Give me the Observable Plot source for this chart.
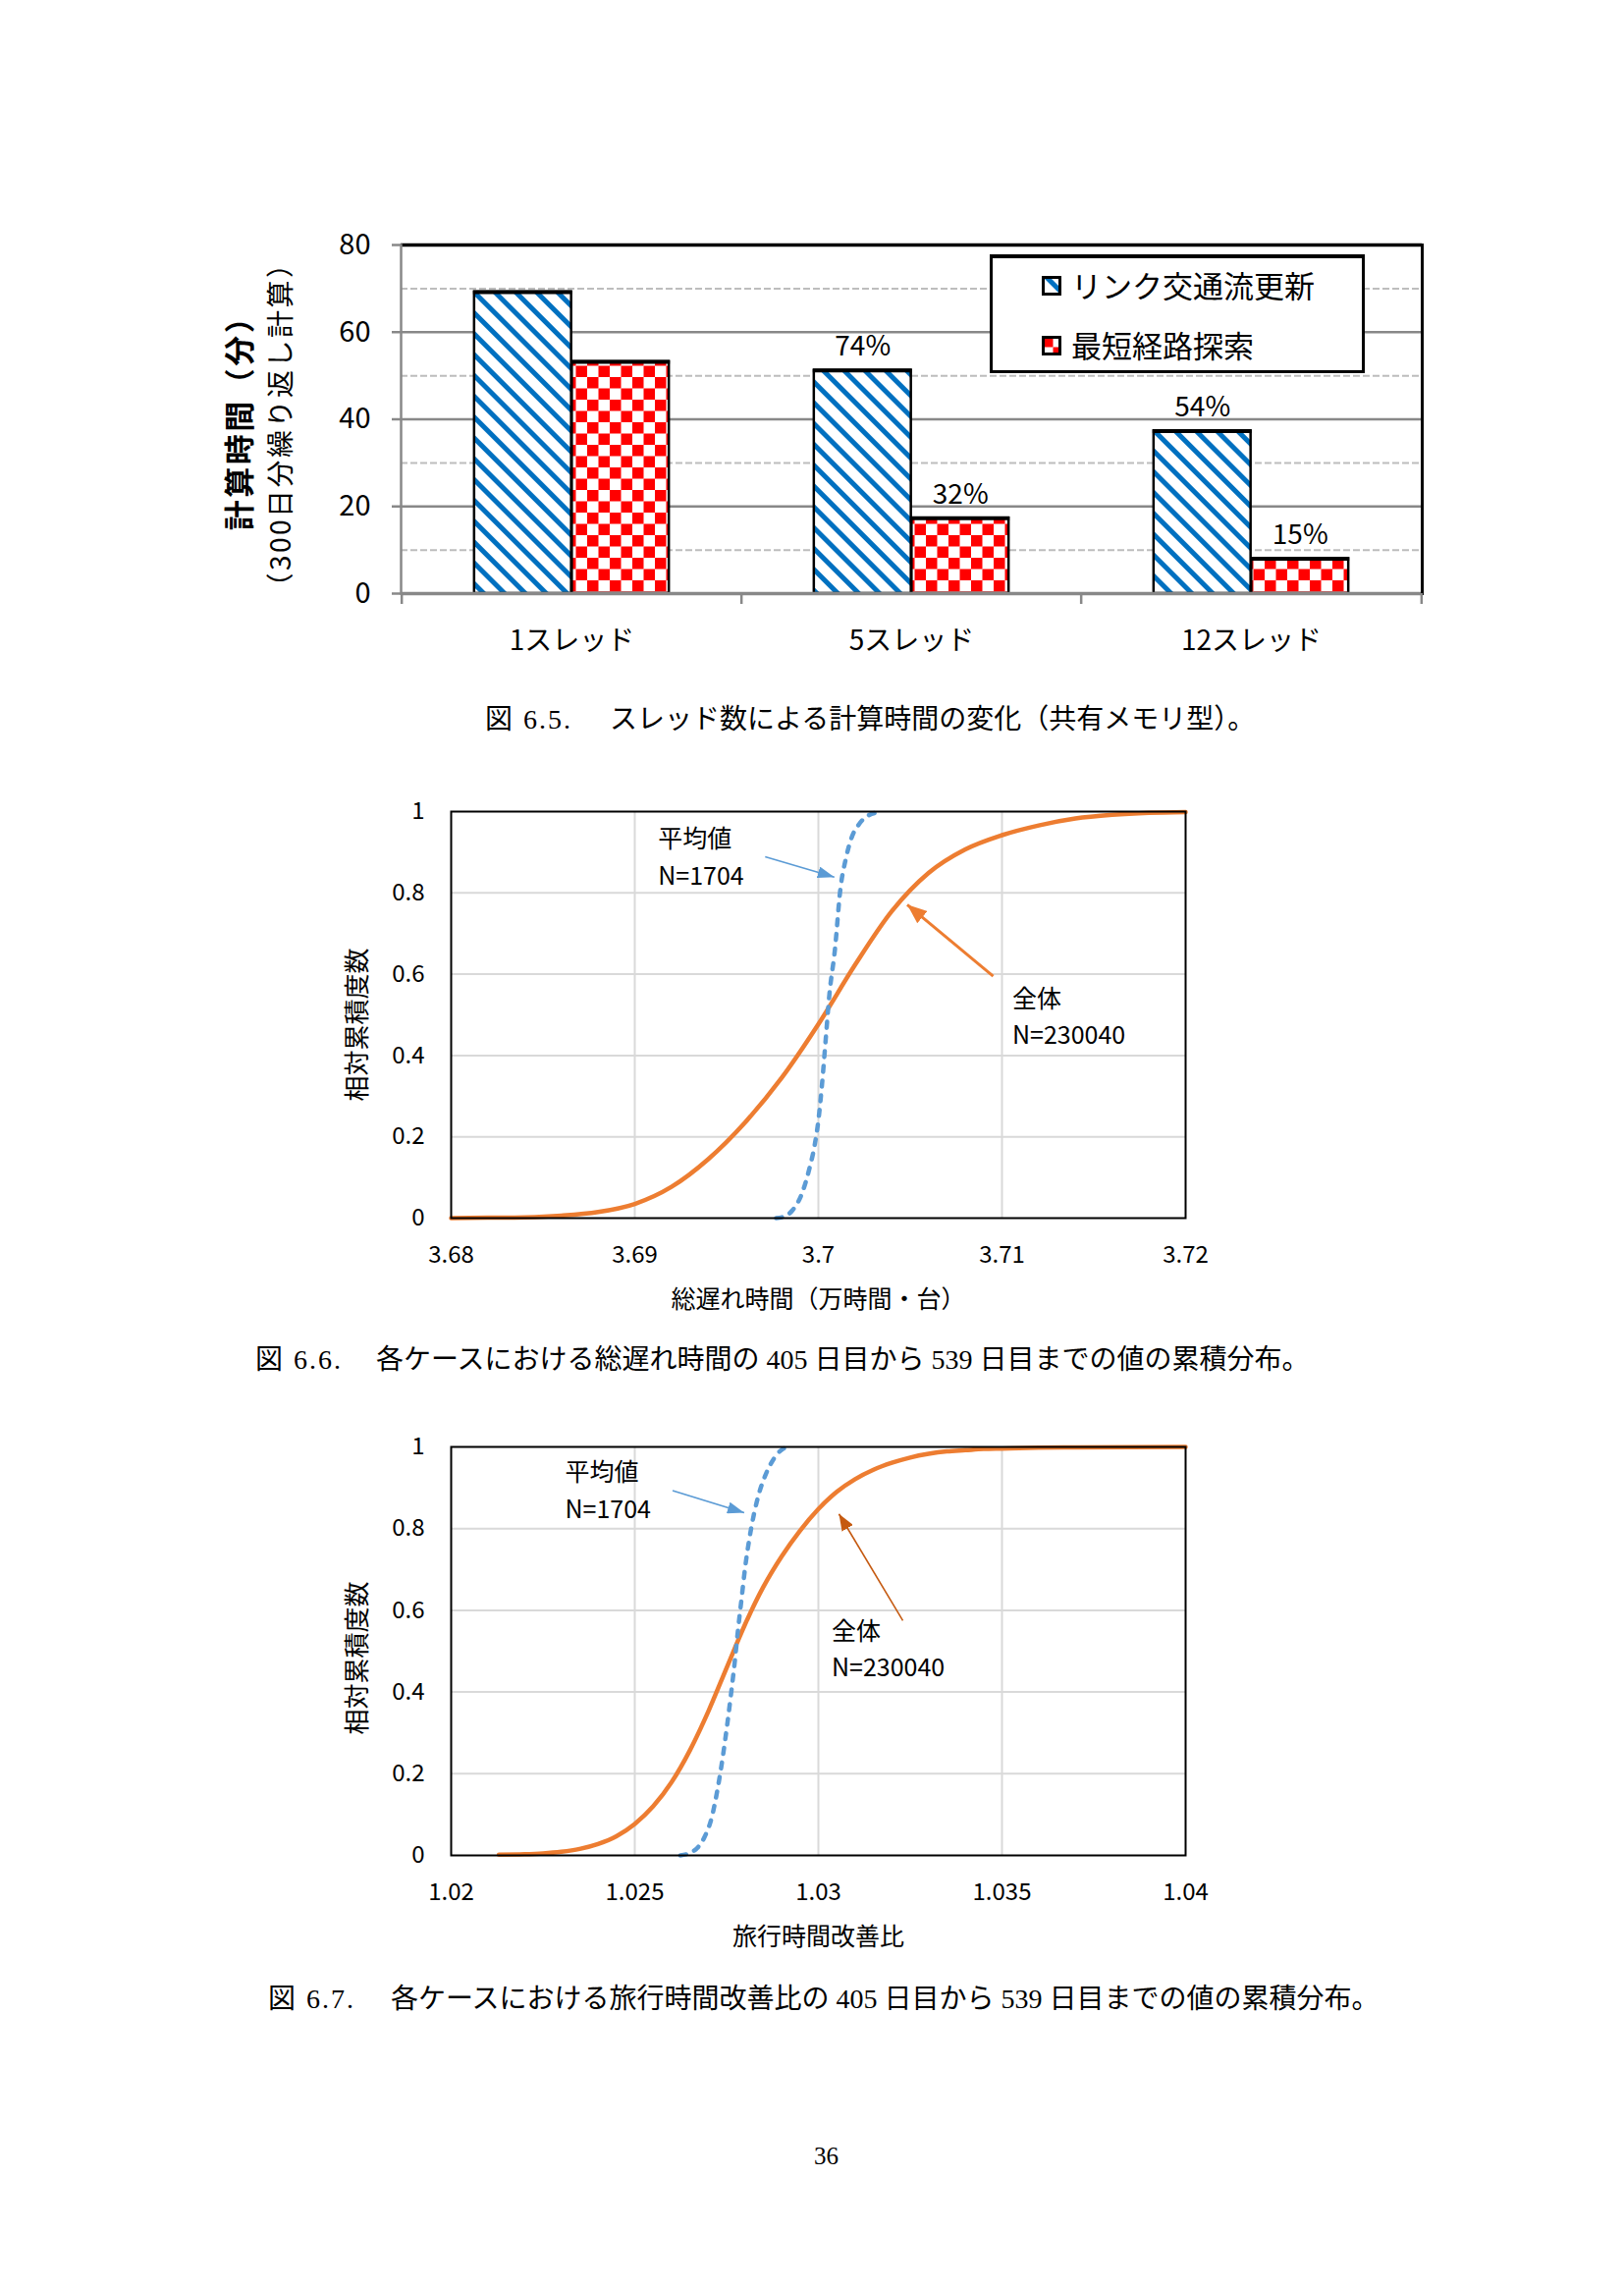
<!DOCTYPE html>
<html>
<head>
<meta charset="utf-8">
<script src="https://cdn.jsdelivr.net/npm/d3@7"></script>
<script src="https://cdn.jsdelivr.net/npm/@observablehq/plot@0.6"></script>
<style>
  html, body { margin: 0; padding: 0; background: #fff; }
  body { width: 1654px; height: 2328px; position: relative; overflow: hidden; }
  .abs { position: absolute; }
  .cap { position: absolute; font-family: "Liberation Serif", "Noto Sans CJK JP", serif; font-size: 28px; line-height: 28px; color: #000; white-space: nowrap; }
  .leg { position: absolute; font-family: "Noto Sans CJK JP", sans-serif; font-size: 31px; line-height: 32px; color: #000; white-space: nowrap; }
</style>
</head>
<body>
<svg width="0" height="0" style="position:absolute">
  <defs>
    <pattern id="diag" patternUnits="userSpaceOnUse" width="15" height="15" patternTransform="rotate(-45)">
      <rect width="15" height="15" fill="#fff"/>
      <rect x="0" y="0" width="5" height="15" fill="#0070C0"/>
    </pattern>
    <pattern id="check" patternUnits="userSpaceOnUse" width="23" height="23">
      <rect width="23" height="23" fill="#fff"/>
      <rect x="0" y="0" width="11.5" height="11.5" fill="#FF0000"/>
      <rect x="11.5" y="11.5" width="11.5" height="11.5" fill="#FF0000"/>
    </pattern>
    <marker id="mBlue" viewBox="0 0 10 10" refX="10" refY="5" markerUnits="userSpaceOnUse" markerWidth="17" markerHeight="12" orient="auto" preserveAspectRatio="none">
      <path d="M0,0L10,5L0,10z" fill="#5B9BD5"/>
    </marker>
    <marker id="mOrange" viewBox="0 0 10 10" refX="10" refY="5" markerUnits="userSpaceOnUse" markerWidth="20" markerHeight="16" orient="auto" preserveAspectRatio="none">
      <path d="M0,0L10,5L0,10z" fill="#ED7D31"/>
    </marker>
    <marker id="mDark" viewBox="0 0 10 10" refX="10" refY="5" markerUnits="userSpaceOnUse" markerWidth="17" markerHeight="13" orient="auto" preserveAspectRatio="none">
      <path d="M0,0L10,5L0,10z" fill="#C55A11"/>
    </marker>
  </defs>
</svg>

<div id="c1" class="abs" style="left:0;top:200px"></div>
<div id="legend" class="abs" style="left:1008px;top:259px;width:382px;height:121px;box-sizing:border-box;border:3px solid #000;border-top-width:4px;background:#fff;">
  <svg style="position:absolute;left:50px;top:18px" width="20" height="20"><rect x="1.5" y="1.5" width="17" height="17" fill="url(#diag)" stroke="#000" stroke-width="3"/></svg>
  <span class="leg" id="leg1" style="left:80px;top:11px"></span>
  <svg style="position:absolute;left:50px;top:79px" width="20" height="20"><rect x="1.5" y="1.5" width="17" height="17" fill="url(#check)" stroke="#000" stroke-width="3"/></svg>
  <span class="leg" id="leg2" style="left:80px;top:72px"></span>
</div>
<span class="cap" style="left:494px;top:719px;letter-spacing:2px">図 6.5.</span>
<span class="cap" style="left:621px;top:719px">スレッド数による計算時間の変化（共有メモリ型）。</span>

<div id="c2" class="abs" style="left:0;top:780px"></div>
<span class="cap" style="left:260px;top:1371px;letter-spacing:2px">図 6.6.</span>
<span class="cap" style="left:383px;top:1371px">各ケースにおける総遅れ時間の 405 日目から 539 日目までの値の累積分布。</span>

<div id="c3" class="abs" style="left:0;top:1430px"></div>
<span class="cap" style="left:273px;top:2022px;letter-spacing:2px">図 6.7.</span>
<span class="cap" style="left:398px;top:2022px">各ケースにおける旅行時間改善比の 405 日目から 539 日目までの値の累積分布。</span>

<span class="cap" style="left:829px;top:2182px;font-size:25px">36</span>

<script>
// ---------- Chart 1 data (図 6.5) ----------
const threads = ["1スレッド", "5スレッド", "12スレッド"];
const seriesNames = ["リンク交通流更新", "最短経路探索"];
const linkUpdateMin = [69.2, 51.2, 37.3];
const shortestPathMin = [53.2, 17.3, 8.0];
const linkUpdatePct = ["", "74%", "54%"];
const shortestPathPct = ["", "32%", "15%"];
const yTicks1 = [0, 20, 40, 60, 80];
const yMinor1 = [10, 30, 50, 70];
const yTitle1a = "計算時間（分）";
const yTitle1b = "（300日分繰り返し計算）";

// ---------- Chart 2 data (図 6.6) ----------
const delayAllX = [3.680, 3.682, 3.684, 3.686, 3.688, 3.690, 3.692, 3.694, 3.696, 3.698, 3.700, 3.702, 3.704, 3.706, 3.708, 3.710, 3.712, 3.714, 3.716, 3.718, 3.720];
const delayAllY = [0.000, 0.001, 0.002, 0.006, 0.015, 0.035, 0.077, 0.145, 0.235, 0.345, 0.477, 0.623, 0.755, 0.849, 0.907, 0.942, 0.966, 0.983, 0.992, 0.997, 0.999];
const delayMeanX = [3.6977, 3.6982, 3.6986, 3.6991, 3.6995, 3.6998, 3.7000, 3.7002, 3.7004, 3.7006, 3.7009, 3.7012, 3.7015, 3.7018, 3.7022, 3.7027, 3.7035];
const delayMeanY = [0.000, 0.005, 0.020, 0.060, 0.120, 0.180, 0.240, 0.330, 0.440, 0.550, 0.660, 0.810, 0.885, 0.935, 0.968, 0.990, 1.000];
const xTicks2 = [3.68, 3.69, 3.70, 3.71, 3.72];
const xTickLabels2 = ["3.68", "3.69", "3.7", "3.71", "3.72"];
const annot2Text = ["平均値", "N=1704", "全体", "N=230040"];
const annot2X = [3.69127, 3.69127, 3.71056, 3.71056];
const annot2Y = [0.932, 0.839, 0.538, 0.448];
const arrow2X1 = [3.6971, 3.70952];
const arrow2Y1 = [0.889, 0.595];
const arrow2X2 = [3.70087, 3.70484];
const arrow2Y2 = [0.839, 0.771];
const xTitle2 = "総遅れ時間（万時間・台）";

// ---------- Chart 3 data (図 6.7) ----------
const ratioAllX = [1.0213, 1.0220, 1.0225, 1.0230, 1.0235, 1.0240, 1.0245, 1.0250, 1.0255, 1.0260, 1.0265, 1.0270, 1.0275, 1.0280, 1.0285, 1.0290, 1.0295, 1.0300, 1.0305, 1.0310, 1.0315, 1.0320, 1.0325, 1.0330, 1.0335, 1.0340, 1.0345, 1.0350, 1.0360, 1.0370, 1.0400];
const ratioAllY = [0.002, 0.003, 0.005, 0.009, 0.016, 0.028, 0.047, 0.077, 0.120, 0.179, 0.257, 0.352, 0.459, 0.565, 0.657, 0.732, 0.795, 0.848, 0.890, 0.921, 0.944, 0.961, 0.974, 0.983, 0.989, 0.992, 0.995, 0.996, 0.998, 0.999, 1.000];
const ratioMeanX = [1.02624, 1.02650, 1.02670, 1.02690, 1.02709, 1.02725, 1.02739, 1.02751, 1.02762, 1.02772, 1.02781, 1.02791, 1.02801, 1.02812, 1.02824, 1.02838, 1.02854, 1.02870, 1.02885, 1.02900, 1.02916];
const ratioMeanY = [0.000, 0.006, 0.018, 0.045, 0.091, 0.160, 0.237, 0.315, 0.394, 0.472, 0.551, 0.630, 0.708, 0.775, 0.833, 0.885, 0.927, 0.958, 0.979, 0.993, 1.000];
const xTicks3 = [1.02, 1.025, 1.03, 1.035, 1.04];
const xTickLabels3 = ["1.02", "1.025", "1.03", "1.035", "1.04"];
const annot3Text = ["平均値", "N=1704", "全体", "N=230040"];
const annot3X = [1.02310, 1.02310, 1.03036, 1.03036];
const annot3Y = [0.936, 0.846, 0.546, 0.457];
const arrow3X1 = [1.02603, 1.0323];
const arrow3Y1 = [0.893, 0.575];
const arrow3X2 = [1.02798, 1.03056];
const arrow3Y2 = [0.839, 0.836];
const xTitle3 = "旅行時間改善比";

const yTicksCdf = [0, 0.2, 0.4, 0.6, 0.8, 1];
const yTickLabelsCdf = ["0", "0.2", "0.4", "0.6", "0.8", "1"];
const yTitleCdf = "相対累積度数";

const FONT = '"Noto Sans CJK JP", "Noto Sans", sans-serif';

// ---------- Chart 1 ----------
document.getElementById("leg1").textContent = seriesNames[0];
document.getElementById("leg2").textContent = seriesNames[1];

const blueRows = threads.map((t, i) => ({thread: t, value: linkUpdateMin[i], pct: linkUpdatePct[i]}));
const redRows = threads.map((t, i) => ({thread: t, value: shortestPathMin[i], pct: shortestPathPct[i]}));
const frameW1 = 1654 - 408 - 206;
const band = frameW1 / threads.length;
const barW = 99.5;
const gap = (band - 2 * barW) / 2;

const chart1 = Plot.plot({
  width: 1654, height: 480,
  marginLeft: 408, marginRight: 206, marginTop: 49, marginBottom: 76,
  style: {fontFamily: FONT, background: "transparent", color: "#000", overflow: "visible"},
  x: {type: "band", domain: threads, padding: 0, axis: null, label: null},
  y: {domain: [0, 80], axis: null, label: null},
  marks: [
    Plot.ruleY(yMinor1, {stroke: "#bdbdbd", strokeWidth: 2, strokeDasharray: "7,3"}),
    Plot.ruleY(yTicks1.filter(d => d > 0 && d < 80), {stroke: "#888", strokeWidth: 2.5}),
    Plot.barY(blueRows, {x: "thread", y: "value", fill: "url(#diag)", stroke: "#000", strokeWidth: 2.5, insetLeft: gap, insetRight: gap + barW}),
    Plot.barY(redRows, {x: "thread", y: "value", fill: "url(#check)", stroke: "#000", strokeWidth: 2.5, insetLeft: gap + barW, insetRight: gap}),
    Plot.tickY(blueRows, {x: "thread", y: "value", stroke: "#000", strokeWidth: 4, insetLeft: gap - 1, insetRight: gap + barW - 1}),
    Plot.tickY(redRows, {x: "thread", y: "value", stroke: "#000", strokeWidth: 4, insetLeft: gap + barW - 1, insetRight: gap - 1}),
    Plot.ruleY([0], {stroke: "#888", strokeWidth: 3.5}),
    Plot.ruleY([80], {stroke: "#000", strokeWidth: 3.5}),
    Plot.frame({anchor: "right", stroke: "#000", strokeWidth: 3}),
    Plot.frame({anchor: "left", stroke: "#888", strokeWidth: 2.5}),
    Plot.axisY(yTicks1, {tickSize: 9, tickPadding: 22, fontSize: 29, stroke: "#888", strokeWidth: 2.5, fill: "#000", label: null}),
    Plot.ruleX(threads, {x: d => d, y1: () => 0, y2: () => 0, dx: -band / 2, insetBottom: -11, stroke: "#888", strokeWidth: 2.5}),
    Plot.ruleX(threads.slice(-1), {x: d => d, y1: () => 0, y2: () => 0, dx: band / 2, insetBottom: -11, stroke: "#888", strokeWidth: 2.5}),
    Plot.text(threads, {x: d => d, frameAnchor: "bottom", lineAnchor: "middle", dy: 49, fontSize: 28}),
    Plot.text(blueRows.filter(d => d.pct), {x: "thread", y: "value", text: "pct", dx: gap + barW / 2 - band / 2, dy: -24, fontSize: 28, lineAnchor: "middle"}),
    Plot.text(redRows.filter(d => d.pct), {x: "thread", y: "value", text: "pct", dx: gap + barW * 1.5 - band / 2, dy: -24, fontSize: 28, lineAnchor: "middle"}),
    Plot.text([yTitle1a], {frameAnchor: "left", textAnchor: "middle", lineAnchor: "middle", rotate: -90, dx: -163, dy: -4, fontSize: 31, fontWeight: "bold"}),
    Plot.text([yTitle1b], {frameAnchor: "left", textAnchor: "middle", lineAnchor: "middle", rotate: -90, dx: -121, dy: 5, fontSize: 28})
  ]
});
chart1.querySelectorAll("text").forEach(t => {
  if (t.textContent === yTitle1a) t.setAttribute("letter-spacing", "2.5");
  if (t.textContent === yTitle1b) t.setAttribute("letter-spacing", "2.5");
});
document.getElementById("c1").appendChild(chart1);

// ---------- CDF chart builder ----------
function cdfChart(cfg) {
  const all = cfg.allX.map((x, i) => ({x, y: cfg.allY[i]}));
  const mean = cfg.meanX.map((x, i) => ({x, y: cfg.meanY[i]}));
  const annots = cfg.annText.map((t, i) => ({t, x: cfg.annX[i], y: cfg.annY[i]}));
  const arrows = cfg.arX1.map((x1, i) => ({x1, y1: cfg.arY1[i], x2: cfg.arX2[i], y2: cfg.arY2[i]}));
  const xt = cfg.xTicks.map((v, i) => ({v, s: cfg.xLabels[i]}));
  const yt = yTicksCdf.map((v, i) => ({v, s: yTickLabelsCdf[i]}));
  const svg = Plot.plot({
    width: 1654, height: 600,
    marginLeft: 459, marginRight: 447, marginTop: cfg.marginTop, marginBottom: 600 - cfg.marginTop - cfg.frameH,
    style: {fontFamily: FONT, background: "transparent", color: "#000", overflow: "visible"},
    x: {domain: [cfg.xTicks[0], cfg.xTicks[cfg.xTicks.length - 1]], axis: null, label: null},
    y: {domain: [0, 1], axis: null, label: null},
    marks: [
      Plot.ruleX(cfg.xTicks.slice(1, -1), {stroke: "#d9d9d9", strokeWidth: 2}),
      Plot.ruleY(yTicksCdf.slice(1, -1), {stroke: "#d9d9d9", strokeWidth: 2}),
      Plot.line(all, {x: "x", y: "y", stroke: "#ED7D31", strokeWidth: 4.5, curve: "monotone-x"}),
      Plot.line(mean, {x: "x", y: "y", stroke: "#5B9BD5", strokeWidth: 4.5, strokeDasharray: "6,9", strokeLinecap: "round", curve: "monotone-x"}),
      Plot.frame({stroke: "#000", strokeWidth: 2}),
      Plot.link(arrows.slice(0, 1), {x1: "x1", y1: "y1", x2: "x2", y2: "y2", stroke: "#5B9BD5", strokeWidth: 1.6}),
      Plot.link(arrows.slice(1), {x1: "x1", y1: "y1", x2: "x2", y2: "y2", stroke: cfg.orangeArrow, strokeWidth: cfg.orangeArrowW}),
      Plot.text(annots, {x: "x", y: "y", text: "t", textAnchor: "start", lineAnchor: "middle", fontSize: 25}),
      Plot.text(yt, {y: "v", text: "s", frameAnchor: "left", textAnchor: "end", lineAnchor: "middle", dx: -27, fontSize: 24}),
      Plot.text(xt, {x: "v", text: "s", frameAnchor: "bottom", textAnchor: "middle", lineAnchor: "middle", dy: 38, fontSize: 24}),
      Plot.text([cfg.xTitle], {frameAnchor: "bottom", textAnchor: "middle", lineAnchor: "middle", dy: 83, fontSize: 25}),
      Plot.text([yTitleCdf], {frameAnchor: "left", textAnchor: "middle", lineAnchor: "middle", rotate: -90, dx: -95, dy: cfg.yTitleDy, fontSize: 26})
    ]
  });
  svg.querySelectorAll('g[aria-label="link"]').forEach(g => {
    const s = (g.getAttribute("stroke") || "").toUpperCase();
    const id = s === "#5B9BD5" ? "mBlue" : s === "#ED7D31" ? "mOrange" : "mDark";
    g.querySelectorAll("path, line").forEach(p => p.setAttribute("marker-end", `url(#${id})`));
  });
  return svg;
}

document.getElementById("c2").appendChild(cdfChart({
  allX: delayAllX, allY: delayAllY, meanX: delayMeanX, meanY: delayMeanY,
  annText: annot2Text, annX: annot2X, annY: annot2Y,
  arX1: arrow2X1, arY1: arrow2Y1, arX2: arrow2X2, arY2: arrow2Y2,
  xTicks: xTicks2, xLabels: xTickLabels2, xTitle: xTitle2,
  marginTop: 46, frameH: 414, yTitleDy: 10,
  orangeArrow: "#ED7D31", orangeArrowW: 3
}));

document.getElementById("c3").appendChild(cdfChart({
  allX: ratioAllX, allY: ratioAllY, meanX: ratioMeanX, meanY: ratioMeanY,
  annText: annot3Text, annX: annot3X, annY: annot3Y,
  arX1: arrow3X1, arY1: arrow3Y1, arX2: arrow3X2, arY2: arrow3Y2,
  xTicks: xTicks3, xLabels: xTickLabels3, xTitle: xTitle3,
  marginTop: 43, frameH: 416, yTitleDy: 7,
  orangeArrow: "#C55A11", orangeArrowW: 1.6
}));
</script>
</body>
</html>
